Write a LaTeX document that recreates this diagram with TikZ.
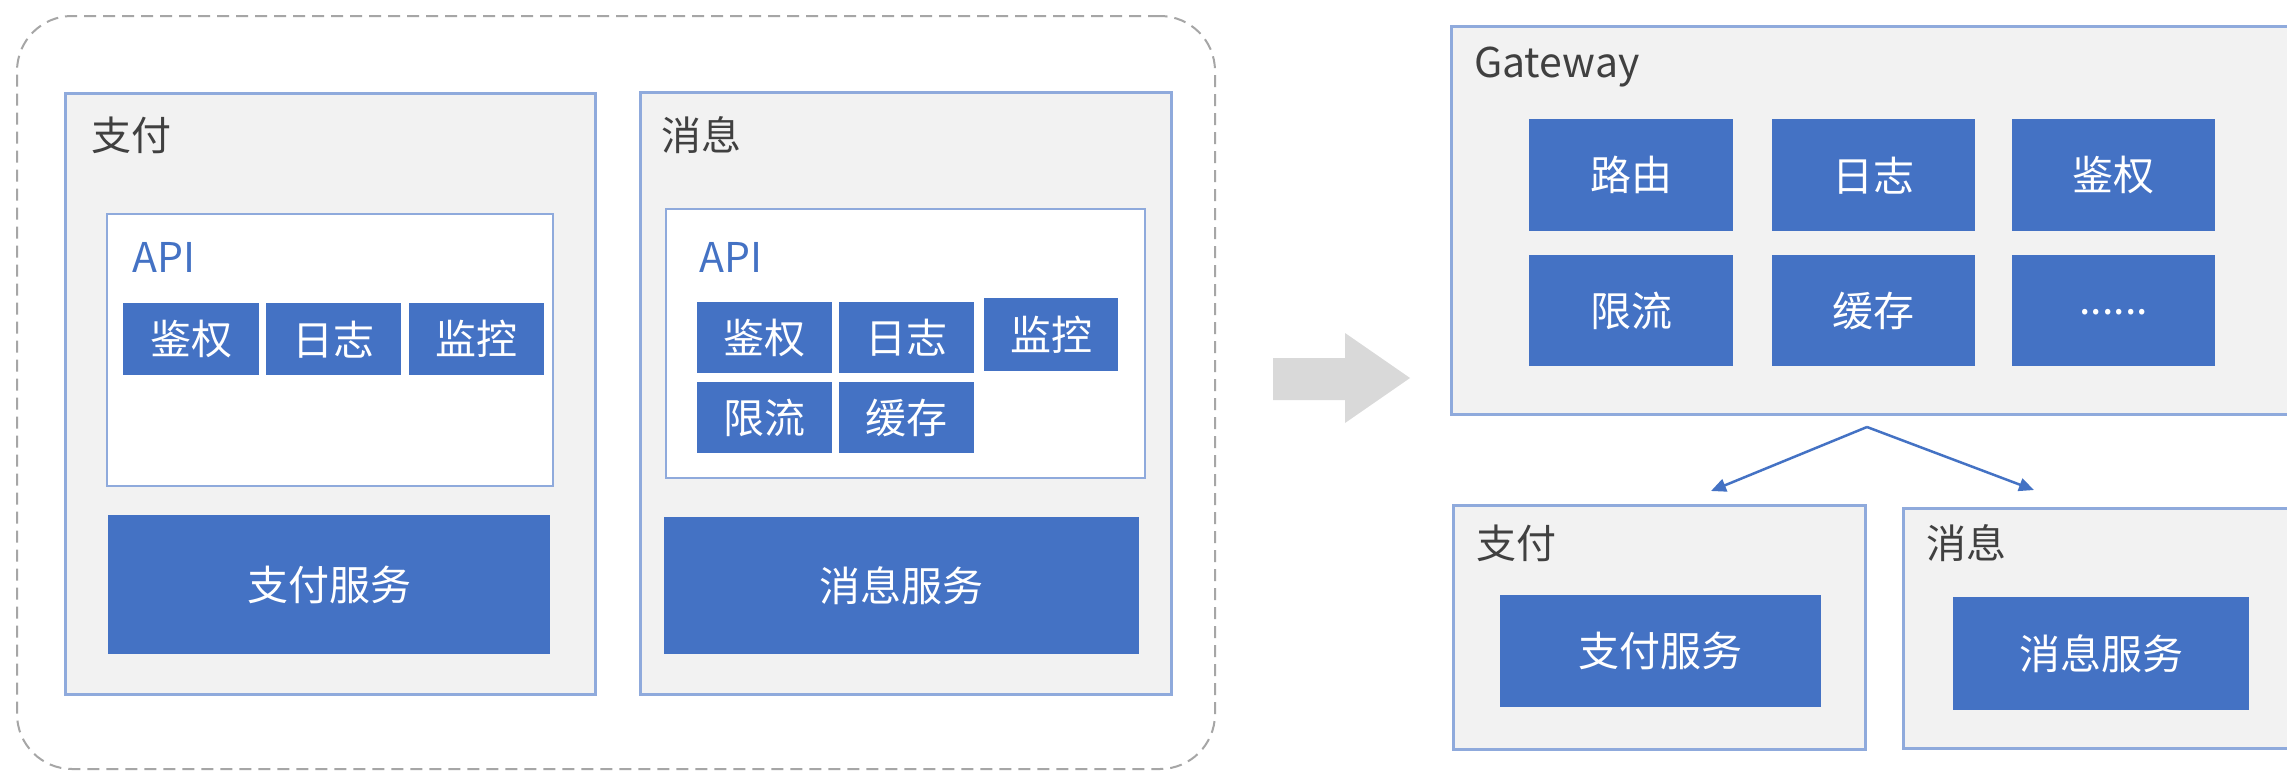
\documentclass[tikz,border=0pt]{standalone}
\usepackage{fontspec}
\setmainfont{Noto Sans CJK SC}
\usetikzlibrary{arrows.meta}
\definecolor{bblue}{HTML}{4472C4}
\definecolor{pgray}{HTML}{F2F2F2}
\definecolor{lblue}{HTML}{8FAADC}
\definecolor{tgray}{HTML}{404040}
\definecolor{dgray}{HTML}{A6A6A6}
\definecolor{agray}{HTML}{D9D9D9}
\tikzset{
  wh/.style 2 args={minimum width=#1pt, minimum height=#2pt},
  panel/.style={draw=lblue, fill=pgray, line width=2.5pt, inner sep=0pt, anchor=north west},
  apibox/.style={draw=lblue, fill=white, line width=2pt, inner sep=0pt, anchor=north west},
  blk/.style={fill=bblue, text=white, font=\fontsize{41}{48}\selectfont, inner sep=0pt, anchor=north west},
  lbl/.style={text=tgray, font=\fontsize{40}{48}\selectfont, inner sep=0pt, anchor=base west},
  apilbl/.style={text=bblue, font=\fontsize{41}{48}\selectfont, inner sep=0pt, anchor=base west},
  outerbox/.style={draw=dgray, line width=2pt, dash pattern=on 12pt off 7pt, rounded corners=55pt, inner sep=0pt, anchor=north west},
  conn/.style={draw=bblue, line width=2.5pt, -{Triangle[length=15pt,width=13pt]}}
}
\begin{document}
\begin{tikzpicture}[x=1pt,y=-1pt]
\path[use as bounding box] (0,0) rectangle (2287,772);
\clip (0,0) rectangle (2287,772);
\fill[white] (0,0) rectangle (2287,772);

% left: before
\node[outerbox, wh={1198}{753}] (outer) at (16,15) {};

\node[panel, wh={530}{601}] (payL) at (64,92) {};
\node[lbl] (payLlbl) at (91,150) {支付};
\node[apibox, wh={446}{272}] (apiL) at (106,213) {};
\node[apilbl] (apiLlbl) at (132,272) {API};
\node[blk, wh={136}{72}] (authL) at (123,303) {鉴权};
\node[blk, wh={135}{72}] (logL) at (266,303) {日志};
\node[blk, wh={135}{72}] (monL) at (409,303) {监控};
\node[blk, wh={442}{139}] (paySvcL) at (108,515) {支付服务};

\node[panel, wh={531}{602}] (msgL) at (639,91) {};
\node[lbl] (msgLlbl) at (661,150) {消息};
\node[apibox, wh={479}{269}] (apiM) at (665,208) {};
\node[apilbl] (apiMlbl) at (699,272) {API};
\node[blk, wh={135}{71}] (authM) at (697,302) {鉴权};
\node[blk, wh={135}{71}] (logM) at (839,302) {日志};
\node[blk, wh={134}{73}] (monM) at (984,298) {监控};
\node[blk, wh={135}{71}] (limM) at (697,382) {限流};
\node[blk, wh={135}{71}] (cacheM) at (839,382) {缓存};
\node[blk, wh={475}{137}] (msgSvcL) at (664,517) {消息服务};

% middle arrow
\fill[agray] (1273,358) -- (1345,358) -- (1345,333) -- (1410,378) -- (1345,423) -- (1345,400) -- (1273,400) -- cycle;

% right: after
\node[panel, wh={900}{388}] (gw) at (1450,25) {};
\node[lbl, font=\fontsize{41}{48}\selectfont] (gwlbl) at (1474,77) {Gateway};
\node[blk, wh={204}{112}] (route) at (1529,119) {路由};
\node[blk, wh={203}{112}] (logG) at (1772,119) {日志};
\node[blk, wh={203}{112}] (authG) at (2012,119) {鉴权};
\node[blk, wh={204}{111}] (limG) at (1529,255) {限流};
\node[blk, wh={203}{111}] (cacheG) at (1772,255) {缓存};
\node[blk, wh={203}{111}] (moreG) at (2012,255) {\raisebox{-8pt}{......}};

\node[panel, wh={412}{244}] (payR) at (1452,504) {};
\node[lbl] (payRlbl) at (1476,558) {支付};
\node[blk, wh={321}{112}] (paySvcR) at (1500,595) {支付服务};

\node[panel, wh={450}{240}] (msgR) at (1902,507) {};
\node[lbl] (msgRlbl) at (1926,558) {消息};
\node[blk, wh={296}{113}] (msgSvcR) at (1953,597) {消息服务};

\coordinate (apex) at (1867,427);
\coordinate (tipL) at (1711,491);
\coordinate (tipR) at (2034,490);
\draw[conn] (apex) -- (tipL);
\draw[conn] (apex) -- (tipR);
\end{tikzpicture}
\end{document}
